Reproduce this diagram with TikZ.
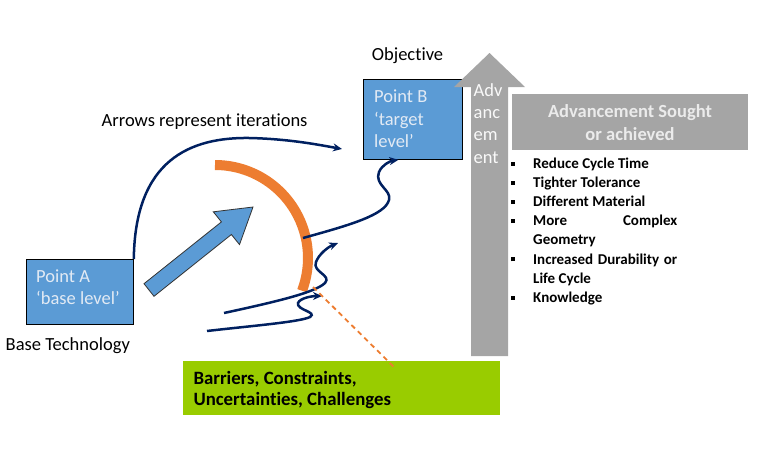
\documentclass[tikz,border=0pt]{standalone}
\usepackage{fontspec}
\setmainfont{Carlito}[Ligatures=NoCommon]
\usetikzlibrary{arrows.meta}
\definecolor{boxblue}{HTML}{5B9BD5}
\definecolor{navy}{HTML}{002060}
\definecolor{orng}{HTML}{ED7D31}
\definecolor{gry}{HTML}{A5A5A5}
\definecolor{grn}{HTML}{99CC00}
\definecolor{lighttxt}{HTML}{E2EAF4}
\definecolor{soughttxt}{HTML}{EBEBEB}
\newcommand\sqbul{\llap{\rule[2.6pt]{4pt}{4pt}\hspace{18.3pt}}}
\begin{document}
\begin{tikzpicture}[x=1pt,y=-1pt,
  txt/.style={anchor=base west, inner sep=0pt, font=\fontsize{18.5}{22.4}\selectfont},
  ptbox/.style={draw=black, line width=0.8pt, fill=boxblue, anchor=north west, inner sep=0pt},
  iter/.style={draw=navy, line width=2.5pt, -{Stealth[length=9pt,width=8pt]}},
  bigarrow/.style={fill=boxblue, draw=black!80, line width=0.8pt, line join=miter},
  barrier/.style={draw=orng, line width=10pt},
  dashline/.style={draw=orng, line width=1.8pt, dash pattern=on 5pt off 4pt}
]
\useasboundingbox (0,0) rectangle (761,464);

% Boxes
\node[ptbox, minimum width=107pt, minimum height=65pt] (A) at (26,259) {};
\node[ptbox, minimum width=99pt, minimum height=80pt] (B) at (363,79) {};
\node[txt, text=lighttxt] (Atxt) at (36,282.5) {\begin{tabular}[t]{@{}l@{}}Point A\\‘base level’\end{tabular}};
\node[txt, text=lighttxt] (Btxt) at (374,102.7) {\begin{tabular}[t]{@{}l@{}}Point B\\‘target\\level’\end{tabular}};

% Labels
\node[txt] (obj) at (371.7,60.7) {Objective};
\node[txt] (arrowslbl) at (101.5,126) {Arrows represent iterations};
\node[txt] (basetech) at (5.5,350.7) {Base Technology};

% Big blue arrow
\path[bigarrow] (144,283.7) -- (221.4,221.9) -- (213.3,211.8) -- (253,207)
  -- (239.5,244.6) -- (231.4,234.5) -- (154,296.3) -- cycle;

% Orange barrier arc
\draw[barrier] (215,165) arc[start angle=90, end angle=-20.6, radius=93pt];

% Grey advancement arrow
\path[fill=gry] (471,356) -- (471,87) -- (454,87) -- (489.5,53) -- (525,87)
  -- (508,87) -- (508,356) -- cycle;
\node[txt, text=white!95!gray] (adv) at (473.5,96) {\begin{tabular}[t]{@{}l@{}}Adv\\anc\\em\\ent\end{tabular}};

% Advancement sought box
\node[fill=gry, anchor=north west, minimum width=236pt, minimum height=56pt, inner sep=0pt] (sought) at (512,94) {};
\node[txt, anchor=base, font=\bfseries\fontsize{18.5}{22.3}\selectfont, text=soughttxt] (soughttxt) at (630,117.7)
  {\begin{tabular}[t]{@{}c@{}}Advancement Sought\\or achieved\end{tabular}};

% List
\node[txt, font=\bfseries\fontsize{15}{19.15}\selectfont] (list) at (533,168.3)
  {\begin{tabular}[t]{@{}l@{}}\sqbul Reduce Cycle Time\\
   \sqbul Tighter Tolerance\\
   \sqbul Different Material\\
   \sqbul\makebox[144pt][s]{More Complex}\\
   Geometry\\
   \sqbul\makebox[144pt][s]{Increased Durability or}\\
   Life Cycle\\
   \sqbul Knowledge\end{tabular}};

% Green barrier box
\node[fill=grn, anchor=north west, minimum width=317pt, minimum height=54pt, inner sep=0pt] (G) at (183,361) {};
\node[txt, font=\bfseries\fontsize{18.8}{20.8}\selectfont] (Gtxt) at (193.3,384.3)
  {\begin{tabular}[t]{@{}l@{}}Barriers, Constraints,\\Uncertainties, Challenges\end{tabular}};

% Coordinates
\coordinate (c4end) at (342,149);
\coordinate (c3start) at (303,238);
\coordinate (cA) at (224,313);
\coordinate (cAend) at (338,243);
\coordinate (cB) at (207,331);
\coordinate (cBend) at (322,296);
\coordinate (dstart) at (313,287);
\coordinate (dend) at (395,368);

% Iteration arrows
\draw[iter] (A.north east) .. controls (135,160) and (190,137) .. (250,138)
  .. controls (290,139) and (320,145) .. (c4end);
\draw[iter] (c3start) .. controls (350,225) and (385,215) .. (389,200)
  .. controls (392,190) and (374,185) .. (379,172)
  .. controls (382,165) and (390,161) .. ([xshift=-14.5pt]B.south);
\draw[iter] (cA) .. controls (270,303) and (315,293) .. (325,283)
  .. controls (332,275) and (312,272) .. (316,262)
  .. controls (319,254) and (328,247) .. (cAend);
\draw[iter] (cB) .. controls (250,326) and (300,322) .. (310,317)
  .. controls (318,312) and (296,310) .. (298,303)
  .. controls (300,298) and (312,296) .. (cBend);

% Dashed connector
\draw[dashline] (dstart) -- (dend);
\end{tikzpicture}
\end{document}
